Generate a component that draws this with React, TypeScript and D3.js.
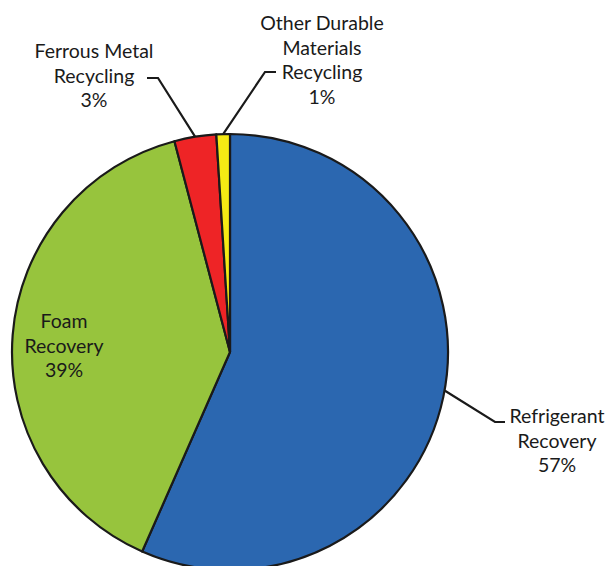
import React from "react";
import * as d3 from "d3";

const categories = ["Refrigerant Recovery", "Foam Recovery", "Ferrous Metal Recycling", "Other Durable Materials Recycling"];
const values = [56.6, 39.3, 3.1, 1.0];
const colors = ["#2B67B0", "#97C43D", "#EE2426", "#F5EA14"];
const labelLines = [
  ["Refrigerant", "Recovery", "57%"],
  ["Foam", "Recovery", "39%"],
  ["Ferrous Metal", "Recycling", "3%"],
  ["Other Durable", "Materials", "Recycling", "1%"],
];

const W = 608, H = 566;
const cx = 230, cy = 352, R = 218;

// label layout: anchor center x, first baseline y, leader elbow (x,y) and end x
const layout = [
  { x: 557, y: 423, elbow: [495, 422], end: [505, 422], lead: true },
  { x: 64, y: 328, lead: false },
  { x: 94, y: 58, elbow: [158, 78], end: [147, 78], lead: true },
  { x: 322, y: 30, elbow: [265, 72], end: [276, 72], lead: true },
];

export default function App() {
  const pie = d3.pie<number>().sort(null).startAngle(0).endAngle(2 * Math.PI);
  const arcs = pie(values);
  const arc = d3.arc<d3.PieArcDatum<number>>().innerRadius(0).outerRadius(R);
  const lh = 24.5;
  return (
    <svg width={W} height={H} style={{ position: "absolute", left: 0, top: 0 }}>
      <g transform={`translate(${cx},${cy})`}>
        {arcs.map((a, i) => (
          <path key={i} d={arc(a) || ""} fill={colors[i]} stroke="#1a1a1a" strokeWidth={2.2} strokeLinejoin="round" />
        ))}
      </g>
      {arcs.map((a, i) => {
        const L = layout[i];
        if (!L.lead) return null;
        const mid = i === 0 ? (a.startAngle + a.endAngle) / 2 - 0.03 : (a.startAngle + a.endAngle) / 2;
        const sx = cx + R * Math.sin(mid);
        const sy = cy - R * Math.cos(mid);
        return (
          <polyline key={"l" + i} points={`${sx},${sy} ${L.elbow![0]},${L.elbow![1]} ${L.end![0]},${L.end![1]}`}
            fill="none" stroke="#1a1a1a" strokeWidth={2.2} />
        );
      })}
      {labelLines.map((lines, i) => (
        <text key={"t" + i} x={layout[i].x} y={layout[i].y} textAnchor="middle"
          fontFamily="Lato, 'Open Sans', sans-serif" fontSize={19.5} fill="#1a1a1a">
          {lines.map((t, j) => (
            <tspan key={j} x={layout[i].x} y={layout[i].y + j * lh}>{t}</tspan>
          ))}
        </text>
      ))}
      <title>{categories.join(", ")}</title>
    </svg>
  );
}
